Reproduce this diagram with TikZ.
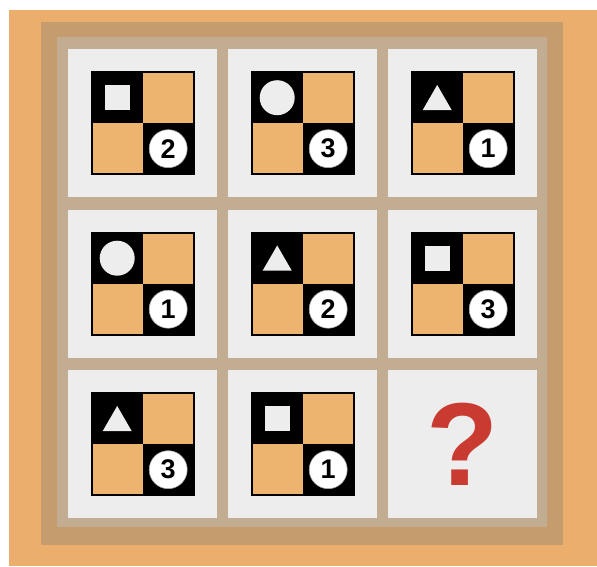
\documentclass[tikz,border=0pt]{standalone}
\usepackage{fontspec}
\setmainfont{Liberation Sans}
\usetikzlibrary{calc,shapes.geometric}
\definecolor{frameorange}{HTML}{EBAE6C}
\definecolor{framebrown}{HTML}{C49C6E}
\definecolor{gridtan}{HTML}{C2AC92}
\definecolor{cellgray}{HTML}{EDEDED}
\definecolor{tileorange}{HTML}{EDB46F}
\definecolor{askred}{HTML}{C93A30}

\begin{document}
\begin{tikzpicture}[x=1pt, y=-1pt,
   cellbox/.style={fill=cellgray, anchor=north west, inner sep=0pt, minimum width=149pt, minimum height=148pt},
   tilebox/.style={fill=tileorange, inner sep=0pt, minimum size=102pt},
   boxsym/.style={rectangle, fill=cellgray, inner sep=0pt, minimum size=25pt},
   roundsym/.style={circle, fill=cellgray, inner sep=0pt, minimum size=35pt},
   trisym/.style={regular polygon, regular polygon sides=3, fill=cellgray, inner sep=0pt, minimum size=33.5pt, yshift=-4pt},
   numdisc/.style={circle, fill=white, draw=black!35, line width=0.6pt, inner sep=0pt, minimum size=38pt,
     font=\bfseries\fontsize{27}{27}\selectfont}]
  % frame
  \useasboundingbox (0,0) rectangle (597,566);
  \fill[white] (0,0) rectangle (597,566);
  \fill[frameorange] (9,10) rectangle (597,566);
  \fill[framebrown] (41,22) rectangle (563,545);
  \fill[gridtan] (57,37) rectangle (547,527);

  % cells
  \foreach \c in {0,1,2}
    \foreach \r in {0,1,2}
      \node[cellbox] (cell\c\r) at (68+160*\c, 49+160.5*\r) {};

  % tiles with symbol and number
  \foreach \c/\r/\g/\n [count=\i] in {0/0/boxsym/2, 1/0/roundsym/3, 2/0/trisym/1,
                                      0/1/roundsym/1, 1/1/trisym/2, 2/1/boxsym/3,
                                      0/2/trisym/3, 1/2/boxsym/1} {
    \node[tilebox] (tile\i) at (cell\c\r.center) {};
    \fill[black] (tile\i.north west) rectangle (tile\i.center);
    \fill[black] (tile\i.center) rectangle (tile\i.south east);
    \draw[line width=2pt] (tile\i.north west) rectangle (tile\i.south east);
    \node[\g] (sym\i) at ($(tile\i.center)+(-25.5,-25.5)$) {};
    \node[numdisc] (num\i) at ($(tile\i.center)+(25.5,25.5)$) {\n};
  }

  % missing tile
  \node[text=askred, font=\bfseries\fontsize{118}{118}\selectfont, inner sep=0pt] (ask) at (cell22.center) {?};
\end{tikzpicture}
\end{document}
